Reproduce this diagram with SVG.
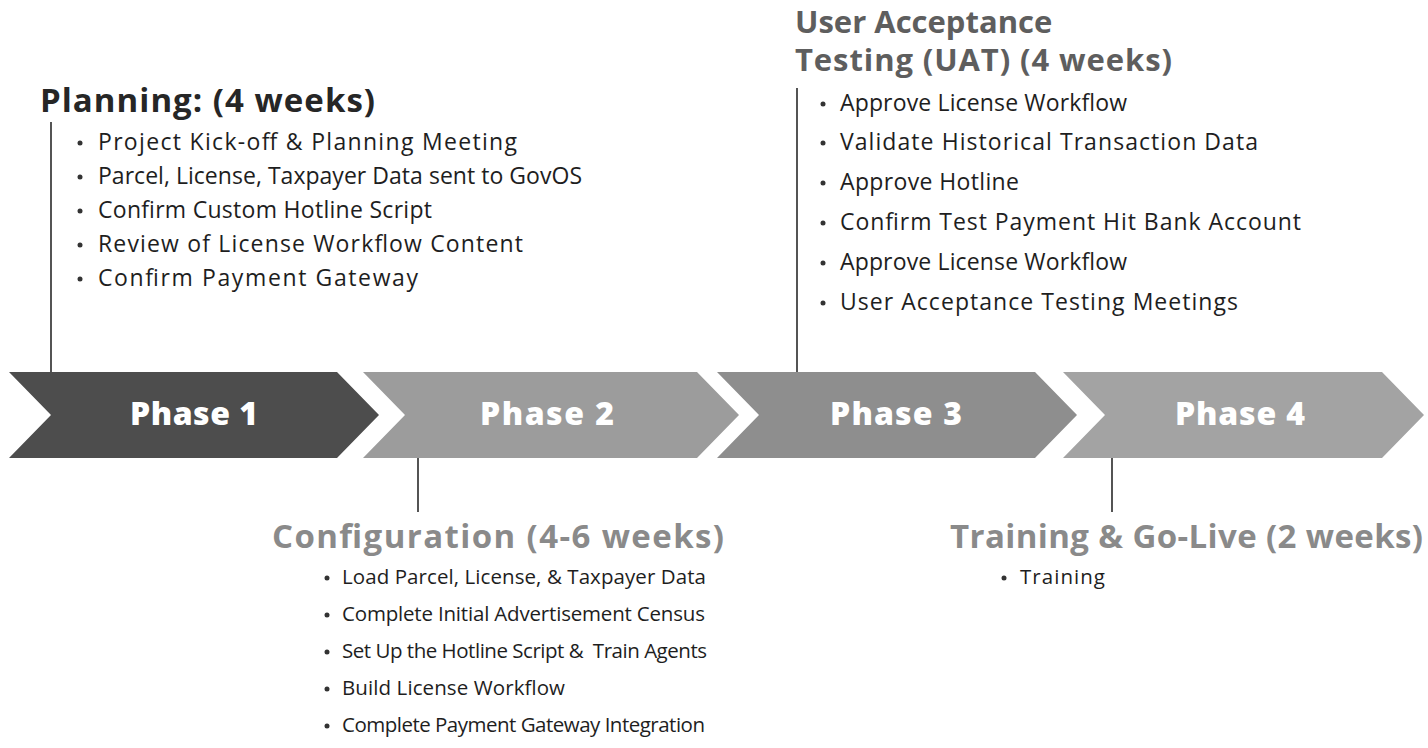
<svg xmlns="http://www.w3.org/2000/svg" width="1428" height="748" viewBox="0 0 1428 748">
<style>
.title{font-family:"Open Sans","Liberation Sans",sans-serif;font-weight:700;font-size:33px}
.title2{font-family:"Open Sans","Liberation Sans",sans-serif;font-weight:700;font-size:31px;fill:#5e5e5e}
.item{font-family:"Open Sans","Liberation Sans",sans-serif;font-size:23px;fill:#1e1e1e}
.item2{font-family:"Open Sans","Liberation Sans",sans-serif;font-size:20.5px;fill:#1e1e1e}
.phase{font-family:"Open Sans","Liberation Sans",sans-serif;font-weight:800;font-size:32px;fill:#ffffff;text-anchor:middle}
.dot{fill:#333}
.conn{stroke:#2a2a2a;stroke-width:1.6;fill:none}
</style>
<rect width="1428" height="748" fill="#ffffff"/>
<g id="connectors">
<line class="conn" x1="51" y1="122" x2="51" y2="372"/>
<line class="conn" x1="797" y1="88" x2="797" y2="372"/>
<line class="conn" x1="418" y1="458" x2="418" y2="512"/>
<line class="conn" x1="1112" y1="458" x2="1112" y2="512"/>
</g>
<g id="phase1">
<polygon points="9,372 337,372 379,415 337,458 9,458 51,415" fill="#4d4d4d"/>
<text class="phase" x="194" y="425" textLength="128">Phase 1</text>
</g>
<g id="phase2">
<polygon points="363,372 697,372 739,415 697,458 363,458 405,415" fill="#9c9c9c"/>
<text class="phase" x="547" y="425" textLength="134">Phase 2</text>
</g>
<g id="phase3">
<polygon points="717,372 1035,372 1077,415 1035,458 717,458 759,415" fill="#8e8e8e"/>
<text class="phase" x="896" y="425" textLength="132">Phase 3</text>
</g>
<g id="phase4">
<polygon points="1063,372 1382,372 1424,415 1382,458 1063,458 1105,415" fill="#a3a3a3"/>
<text class="phase" x="1240" y="425" textLength="130">Phase 4</text>
</g>
<g id="planning">
<text class="title" x="40" y="112" fill="#262626" textLength="335">Planning: (4 weeks)</text>
<circle class="dot" cx="80" cy="143" r="2.5"/><text class="item" x="98" y="150" textLength="419">Project Kick-off &amp; Planning Meeting</text>
<circle class="dot" cx="80" cy="177" r="2.5"/><text class="item" x="98" y="184" textLength="484">Parcel, License, Taxpayer Data sent to GovOS</text>
<circle class="dot" cx="80" cy="211" r="2.5"/><text class="item" x="98" y="218" textLength="334">Confirm Custom Hotline Script</text>
<circle class="dot" cx="80" cy="245" r="2.5"/><text class="item" x="98" y="252" textLength="425">Review of License Workflow Content</text>
<circle class="dot" cx="80" cy="279" r="2.5"/><text class="item" x="98" y="286" textLength="320">Confirm Payment Gateway</text>
</g>
<g id="uat">
<text class="title2" x="795" y="33">User Acceptance</text>
<text class="title2" x="795" y="71" textLength="377">Testing (UAT) (4 weeks)</text>
<circle class="dot" cx="823" cy="104" r="2.5"/><text class="item" x="840" y="111" textLength="287">Approve License Workflow</text>
<circle class="dot" cx="823" cy="143" r="2.5"/><text class="item" x="840" y="150" textLength="418">Validate Historical Transaction Data</text>
<circle class="dot" cx="823" cy="183" r="2.5"/><text class="item" x="840" y="190" textLength="179">Approve Hotline</text>
<circle class="dot" cx="823" cy="223" r="2.5"/><text class="item" x="840" y="230" textLength="461">Confirm Test Payment Hit Bank Account</text>
<circle class="dot" cx="823" cy="263" r="2.5"/><text class="item" x="840" y="270" textLength="287">Approve License Workflow</text>
<circle class="dot" cx="823" cy="303" r="2.5"/><text class="item" x="840" y="310" textLength="398">User Acceptance Testing Meetings</text>
</g>
<g id="configuration">
<text class="title" x="272" y="548" fill="#8a8a8a" textLength="452">Configuration (4-6 weeks)</text>
<circle class="dot" cx="327" cy="578" r="2.5"/><text class="item2" x="342" y="584" textLength="364">Load Parcel, License, &amp; Taxpayer Data</text>
<circle class="dot" cx="327" cy="615" r="2.5"/><text class="item2" x="342" y="621" textLength="363">Complete Initial Advertisement Census</text>
<circle class="dot" cx="327" cy="652" r="2.5"/><text class="item2" x="342" y="658" textLength="365" xml:space="preserve">Set Up the Hotline Script &amp;  Train Agents</text>
<circle class="dot" cx="327" cy="689" r="2.5"/><text class="item2" x="342" y="695" textLength="223">Build License Workflow</text>
<circle class="dot" cx="327" cy="726" r="2.5"/><text class="item2" x="342" y="732" textLength="363">Complete Payment Gateway Integration</text>
</g>
<g id="training">
<text class="title" x="950" y="548" fill="#8a8a8a" textLength="473">Training &amp; Go-Live (2 weeks)</text>
<circle class="dot" cx="1004" cy="578" r="2.5"/><text class="item2" x="1020" y="584" textLength="85">Training</text>
</g>
</svg>
